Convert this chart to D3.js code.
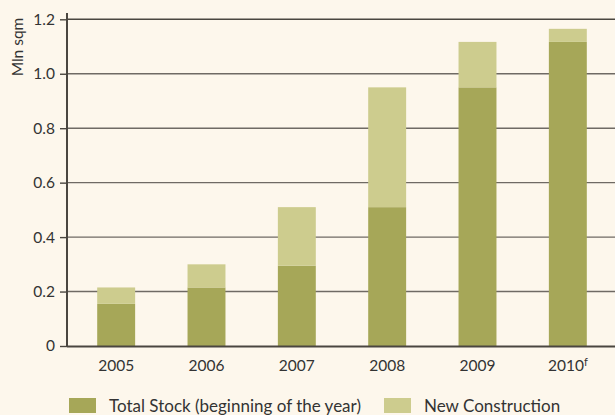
<!DOCTYPE html>
<html>
<head>
<meta charset="utf-8">
<script src="https://cdn.jsdelivr.net/npm/d3@7"></script>
<style>
  html, body { margin: 0; padding: 0; background: #fdf7ec; }
  svg { display: block; }
  text { font-family: "Lato", "Open Sans", sans-serif; fill: #333; }
</style>
</head>
<body>
<svg id="chart" width="615" height="415"></svg>
<script>
// Office stock, million square metres
const years = ["2005", "2006", "2007", "2008", "2009", "2010"];
const totalStock = [0.155, 0.215, 0.295, 0.51, 0.95, 1.117];
const newConstruction = [0.06, 0.085, 0.215, 0.44, 0.167, 0.048];
const yTicks = [0, 0.2, 0.4, 0.6, 0.8, 1.0, 1.2];
const seriesNames = ["Total Stock (beginning of the year)", "New Construction"];
const colors = ["#a6a758", "#cdcc8e"];

const svg = d3.select("#chart");
const W = 615;
const axisX = 67;

const x = d3.scaleBand().domain(years).range([71, 613]).paddingInner(0.58).paddingOuter(0.29);
const y = d3.scaleLinear().domain([0, 1.2]).range([346, 19.3]);

// gridlines
svg.append("g").selectAll("line").data(yTicks.filter(d => d > 0)).join("line")
  .attr("x1", axisX).attr("x2", W)
  .attr("y1", d => y(d)).attr("y2", d => y(d))
  .attr("stroke", d => d === 1.2 ? "#4a4640" : "#6f6a64")
  .attr("stroke-width", 1.4);

// stacked bars
const rows = years.map((yr, i) => ({ yr, base: totalStock[i], add: newConstruction[i] }));
const g = svg.append("g");
g.selectAll("rect.base").data(rows).join("rect")
  .attr("class", "base")
  .attr("x", d => x(d.yr)).attr("width", x.bandwidth())
  .attr("y", d => y(d.base)).attr("height", d => y(0) - y(d.base))
  .attr("fill", colors[0]);
g.selectAll("rect.add").data(rows).join("rect")
  .attr("class", "add")
  .attr("x", d => x(d.yr)).attr("width", x.bandwidth())
  .attr("y", d => y(d.base + d.add)).attr("height", d => y(d.base) - y(d.base + d.add))
  .attr("fill", colors[1]);

// y axis
const yAxis = d3.axisLeft(y).tickValues(yTicks).tickSize(7).tickPadding(5)
  .tickFormat(d => d === 0 ? "0" : d3.format(".1f")(d));
const ya = svg.append("g").attr("transform", `translate(${axisX},0)`).call(yAxis);
ya.select(".domain").remove();
ya.selectAll(".tick line").attr("stroke", "#4a4640").attr("stroke-width", 1.4);
ya.selectAll(".tick text").style("font-size", "15.5px").attr("fill", "#333");
svg.append("line").attr("x1", axisX).attr("x2", axisX).attr("y1", 13).attr("y2", 346.5)
  .attr("stroke", "#4a4640").attr("stroke-width", 2);

// x axis baseline
svg.append("line").attr("x1", axisX).attr("x2", W).attr("y1", 346.5).attr("y2", 346.5)
  .attr("stroke", "#4a4640").attr("stroke-width", 2);

// year labels
const xl = svg.append("g").selectAll("text").data(years).join("text")
  .attr("x", d => x(d) + x.bandwidth() / 2).attr("y", 371)
  .attr("text-anchor", "middle").style("font-size", "15.5px");
xl.text(d => d);
xl.filter(d => d === "2010").append("tspan")
  .attr("dy", -5).style("font-size", "11px").text("f");

// axis title
svg.append("text").attr("transform", "translate(23,47) rotate(-90)")
  .attr("text-anchor", "middle").style("font-size", "15.5px").text("Mln sqm");

// legend
const legendX = [69, 384];
const lg = svg.append("g").selectAll("g").data(seriesNames).join("g")
  .attr("transform", (d, i) => `translate(${legendX[i]},398)`);
lg.append("rect").attr("width", 27).attr("height", 15).attr("fill", (d, i) => colors[i]);
lg.append("text").attr("x", 40).attr("y", 14).style("font-size", "17px").text(d => d);
</script>
</body>
</html>
